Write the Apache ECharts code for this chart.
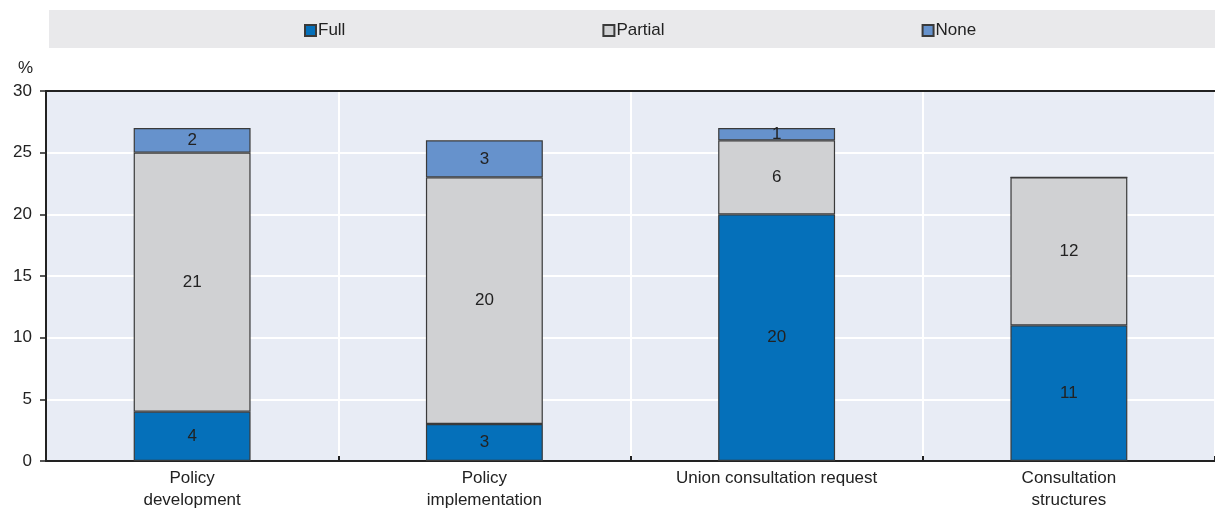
<!DOCTYPE html>
<html><head><meta charset="utf-8">
<script src="https://cdn.jsdelivr.net/npm/echarts@6/dist/echarts.min.js"></script>
<style>html,body{margin:0;padding:0;background:#fff}#c{width:1215px;height:511px}</style>
</head><body><div id="c"></div>
<script>
const categories = ['Policy\ndevelopment', 'Policy\nimplementation', 'Union consultation request', 'Consultation\nstructures'];
const fullValues = [4, 3, 20, 11];
const partialValues = [21, 20, 6, 12];
const noneValues = [2, 3, 1, 0];
const yTicks = [0, 5, 10, 15, 20, 25, 30];

const FONT = "'Liberation Sans Narrow', 'Arial Narrow', 'Liberation Sans', Arial, sans-serif";
const chart = echarts.init(document.getElementById('c'));
const lbl = {show: true, position: 'inside', color: '#222', fontSize: 17, fontFamily: FONT,
  formatter: p => p.value ? p.value : ''};
const border = {borderColor: '#3a3a3a', borderWidth: 1.2};
function mk(name, data, color) {
  return {name, type: 'bar', stack: 't', data, barWidth: '40%',
    itemStyle: Object.assign({color}, border), label: lbl, emphasis: {disabled: true}};
}
chart.setOption({
  animation: false,
  textStyle: {fontFamily: FONT},
  graphic: [{type: 'rect', shape: {x: 49, y: 10, width: 1166, height: 38}, style: {fill: '#E9E9EB'}, z: -1}],
  legend: {top: 17, left: 299, itemGap: 257, itemWidth: 11, itemHeight: 11, icon: 'rect',
    textStyle: {fontSize: 17, color: '#222', fontFamily: FONT, padding: [0, 0, 0, -3]},
    data: ['Full', 'Partial', 'None']},
  grid: {left: 46, right: 0, top: 91, bottom: 46, show: true, backgroundColor: '#E8ECF5', borderWidth: 0},
  xAxis: [{type: 'category', data: categories,
    axisLine: {lineStyle: {color: '#222', width: 2}},
    axisTick: {show: true, inside: true, length: 5, lineStyle: {color: '#222', width: 2}},
    splitLine: {show: true, lineStyle: {color: '#fff', width: 2}},
    axisLabel: {color: '#222', fontSize: 17, fontFamily: FONT, margin: 6, lineHeight: 22}},
    {type: 'category', position: 'top', data: categories,
    axisLine: {lineStyle: {color: '#222', width: 2}}, axisTick: {show: false}, axisLabel: {show: false}}],
  yAxis: {type: 'value', min: yTicks[0], max: yTicks[yTicks.length - 1], interval: yTicks[1] - yTicks[0],
    name: '%', nameLocation: 'end', nameGap: 14,
    nameTextStyle: {color: '#222', fontSize: 17, fontFamily: FONT, align: 'right', padding: [0, 13, 0, 0]},
    axisLine: {show: true, lineStyle: {color: '#222', width: 2}},
    axisTick: {show: true, length: 6, lineStyle: {color: '#222', width: 1.5}},
    splitLine: {show: true, lineStyle: {color: '#fff', width: 2}},
    axisLabel: {color: '#222', fontSize: 17, fontFamily: FONT, margin: 14}},
  series: [mk('Full', fullValues, '#0570BA'), mk('Partial', partialValues, '#D0D1D3'), mk('None', noneValues, '#6692CC')]
});
</script></body></html>
